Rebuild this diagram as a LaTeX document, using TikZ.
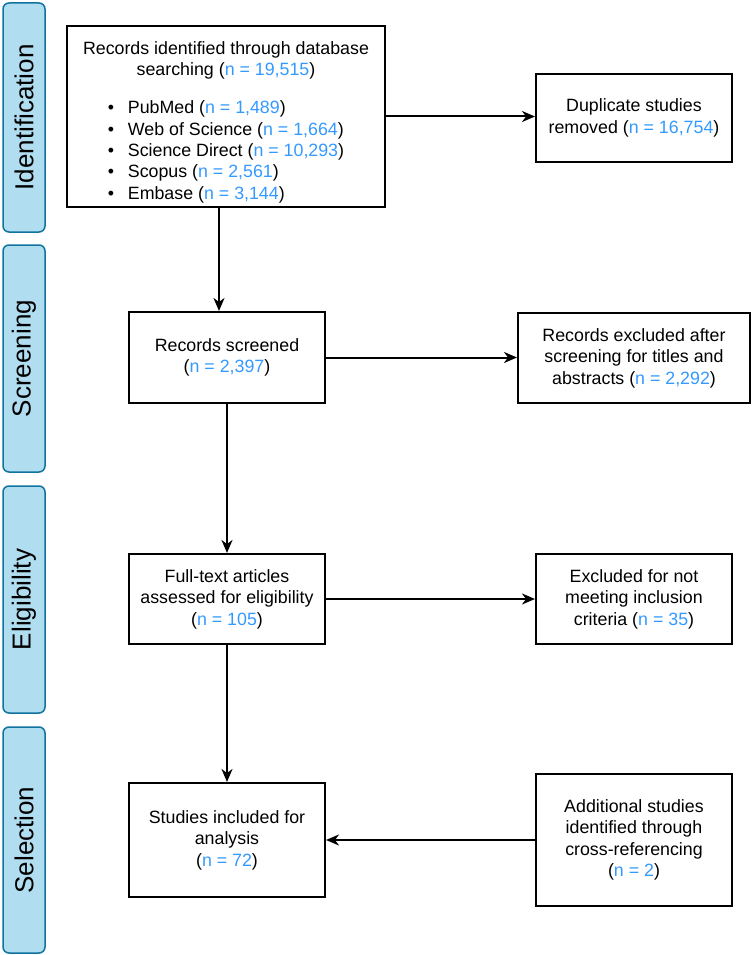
\documentclass[tikz,border=0pt]{standalone}
\usepackage{fontspec}
\setmainfont{Liberation Sans}
\usetikzlibrary{arrows.meta}
\definecolor{nblue}{RGB}{51,153,255}
\definecolor{phasefill}{HTML}{B1DDF0}
\definecolor{phasedraw}{HTML}{10739E}
\newcommand{\nval}[1]{(\textcolor{nblue}{n = #1})}
\newcommand{\bitem}[1]{\makebox[20pt][l]{\textbullet}#1}

\begin{document}
\begin{tikzpicture}
		[
		x = 1pt, y = -1pt,
		phase/.style = {draw = phasedraw, fill = phasefill, line width = 1.5pt, rounded corners = 6pt, rotate = 90, minimum height = 42pt, inner sep = 0pt, font = \fontsize{26}{30}\selectfont},
		box/.style = {draw = black, line width = 2pt, align = center, inner sep = 0pt, font = \fontsize{17.8}{21.4}\selectfont},
		flow/.style = {line width = 2pt, -{Stealth[length = 13pt, width = 11pt, inset = 4pt]}}
		]
		\useasboundingbox (0,0) rectangle (752,955);
		
		% phases
		\node [phase, minimum width = 229pt] (phaseid) at (24,117.5) {Identification};
		\node [phase, minimum width = 227pt] (phasescr) at (24,358.5) {Screening};
		\node [phase, minimum width = 227pt] (phaseelig) at (24,599.5) {Eligibility};
		\node [phase, minimum width = 226pt] (phasesel) at (24,840) {Selection};
		
		% boxes
		\node [box, minimum width = 318pt, minimum height = 181pt] (found) at (226,116.5) {
			\rule{0pt}{27pt}Records identified through database\\
			searching \nval{19,515}\\[16.6pt]
			\begin{tabular}[t]{@{}l@{}}
				\bitem{PubMed \nval{1,489}}\\
				\bitem{Web of Science \nval{1,664}}\\
				\bitem{Science Direct \nval{10,293}}\\
				\bitem{Scopus \nval{2,561}}\\
				\bitem{Embase \nval{3,144}}
			\end{tabular}
		};
		\node [box, minimum width = 196pt, minimum height = 88pt] (dupl) at (634,118) {Duplicate studies\\ removed \nval{16,754}};
		\node [box, minimum width = 196pt, minimum height = 91pt] (screened) at (227,357.5) {Records screened\\ \nval{2,397}};
		\node [box, minimum width = 232pt, minimum height = 90pt] (excltitle) at (634,358) {Records excluded after\\ screening for titles and\\ abstracts \nval{2,292}};
		\node [box, minimum width = 196pt, minimum height = 90pt] (fulltext) at (227,599) {Full-text articles\\ assessed for eligibility\\ \nval{105}};
		\node [box, minimum width = 196pt, minimum height = 90pt] (exclcrit) at (634,599) {Excluded for not\\ meeting inclusion\\ criteria \nval{35}};
		\node [box, minimum width = 196pt, minimum height = 114pt] (included) at (227,840) {Studies included for\\ analysis\\ \nval{72}};
		\node [box, minimum width = 196pt, minimum height = 132pt] (extra) at (634,840) {Additional studies\\ identified through\\ cross-referencing\\ \nval{2}};
		
		% connectors
		\draw [flow] ([xshift = -7pt]found.south) -- ([xshift = -7pt]found.south |- screened.north);
		\draw [flow] (found.east) -- (found.east -| dupl.west);
		\draw [flow] (screened.south) -- (fulltext.north);
		\draw [flow] (screened.east) -- (screened.east -| excltitle.west);
		\draw [flow] (fulltext.east) -- (fulltext.east -| exclcrit.west);
		\draw [flow] (fulltext.south) -- (included.north);
		\draw [flow] (extra.west) -- (extra.west -| included.east);
		
\end{tikzpicture}
\end{document}
